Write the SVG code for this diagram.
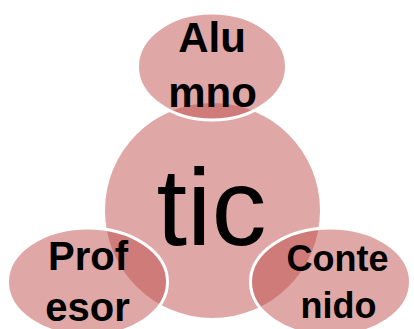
<svg xmlns="http://www.w3.org/2000/svg" width="414" height="329" viewBox="0 0 414 329">
<style>
.shape{fill:#C0504D;fill-opacity:0.5}
.sat{stroke:#FFFFFF;stroke-width:3}
.lbl{font-family:"Liberation Sans",Arial,sans-serif;font-weight:bold;fill:#000000;text-anchor:middle}
.big{font-family:"Liberation Sans",Arial,sans-serif;font-weight:normal;fill:#000000;text-anchor:middle}
</style>
<rect width="414" height="329" fill="#FFFFFF"/>
<g id="tic">
<circle class="shape" cx="212.5" cy="210.5" r="107.5"/>
</g>
<g id="alumno">
<ellipse class="shape sat" cx="212" cy="66.5" rx="74.5" ry="53.5"/>
</g>
<g id="profesor">
<ellipse class="shape sat" cx="87.5" cy="282" rx="80" ry="54"/>
</g>
<g id="contenido">
<ellipse class="shape sat" cx="330.5" cy="282" rx="80" ry="54"/>
</g>
<g id="connectors"></g>
<g id="labels">
<text class="big" x="211.5" y="245" font-size="110">tic</text>
<text class="lbl" x="212" y="52" font-size="42">Alu</text>
<text class="lbl" x="212.5" y="107" font-size="42">mno</text>
<text class="lbl" x="88" y="270" font-size="40">Prof</text>
<text class="lbl" x="87.5" y="321" font-size="40">esor</text>
<text class="lbl" x="337.5" y="271" font-size="36">Conte</text>
<text class="lbl" x="338.5" y="318" font-size="36">nido</text>
</g>
</svg>
